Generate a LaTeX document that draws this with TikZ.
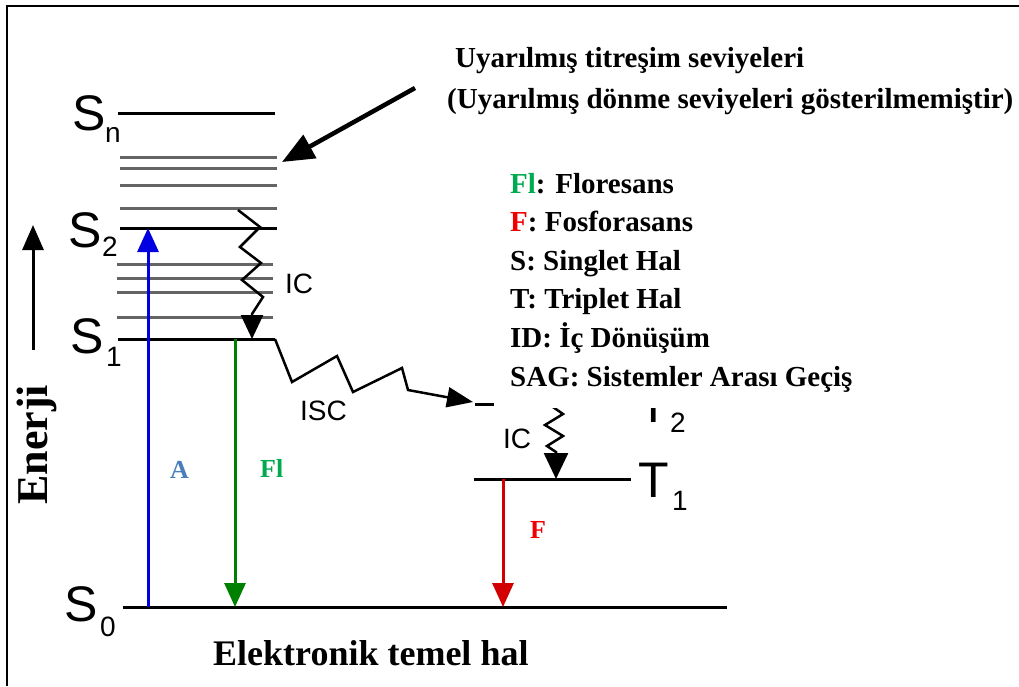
\documentclass[tikz,border=0pt]{standalone}
\usepackage{fontspec}
\setmainfont{Liberation Serif}
\newfontfamily\arialf{Liberation Sans}
\usetikzlibrary{arrows.meta}
\definecolor{lvgrey}{RGB}{100,100,100}
\definecolor{flgreen}{RGB}{0,128,0}
\definecolor{flgreentxt}{RGB}{0,170,80}
\definecolor{fred}{RGB}{210,0,0}
\definecolor{fredtxt}{RGB}{240,0,0}
\definecolor{ablue}{RGB}{0,0,225}
\definecolor{atxt}{RGB}{74,126,187}
\begin{document}
\begin{tikzpicture}[x=1pt,y=-1pt,
  level/.style={line width=3pt,black},
  vib/.style={line width=3pt,lvgrey},
  tipS/.style={-{Triangle[length=24pt,width=21pt]}},
  zig/.style={line width=2.5pt,black,line join=miter},
  lbl/.style={inner sep=0pt,font=\arialf\fontsize{50}{50}\selectfont,anchor=base west},
  sublbl/.style={inner sep=0pt,font=\arialf\fontsize{28}{28}\selectfont,anchor=base west},
  proc/.style={inner sep=0pt,font=\arialf\fontsize{28}{28}\selectfont,anchor=base west},
  txt/.style={inner sep=0pt,anchor=base west,font=\bfseries\fontsize{29}{29}\selectfont},
  trans/.style={inner sep=0pt,anchor=base west,font=\bfseries\fontsize{26}{26}\selectfont}]
\useasboundingbox (0,0) rectangle (1019,686);
\fill[white] (0,0) rectangle (1019,686);
\draw[line width=1.5pt] (7,686) -- (7,6) -- (1019,6);

% levels
\draw[level] (118,113) -- (275,113);
\foreach \yy in {157,168,185,208} \draw[vib] (120,\yy) -- (277,\yy);
\draw[level] (120,228) -- (277,228);
\foreach \yy in {264,278,292,317} \draw[vib] (117,\yy) -- (273,\yy);
\draw[level] (118,339) -- (275,339);
\draw[level] (123,607) -- (727,607);
\draw[level] (474,479) -- (631,479);
\draw[level] (475,404) -- (631,404);

% coordinates
\coordinate (s0a) at (148,607);
\coordinate (s2a) at (148,228);
\coordinate (s1f) at (235,339);
\coordinate (s0f) at (235,607);
\coordinate (t1f) at (503,479);
\coordinate (s0p) at (503,607);
\coordinate (s1end) at (275,339);
\coordinate (t2isc) at (473,402);
\coordinate (icA) at (238,210);
\coordinate (icAend) at (252,339);
\coordinate (icB) at (543,400);
\coordinate (icBend) at (556,479);
\coordinate (ebot) at (33,350);
\coordinate (etop) at (33,225);
\coordinate (ptail) at (415,88);
\coordinate (phead) at (282,162);

% transitions
\draw[ablue,line width=3pt,tipS] (s0a) -- (s2a);
\draw[flgreen,line width=3pt,tipS] (s1f) -- (s0f);
\draw[fred,line width=3pt,tipS] (t1f) -- (s0p);

% IC between S2 and S1
\draw[zig,-{Triangle[length=24pt,width=22pt]}] (icA) -- (260,227) -- (240,247) -- (261,263) -- (242,280) -- (263,297) -- (252,314) -- (icAend);
% ISC
\draw[zig,-{Triangle[length=26pt,width=20pt]}] (s1end) -- (292,382) -- (337,356) -- (353,392) -- (402,368) -- (408,390) -- (t2isc);
% IC between T2 and T1
\draw[zig,-{Triangle[length=26pt,width=24pt]}] (icB) -- (563,414) -- (545,425) -- (563,436) -- (547,446) -- (556,452) -- (icBend);

% energy arrow
\draw[line width=3pt,-{Triangle[length=25pt,width=21pt]}] (ebot) -- (etop);
% pointer arrow
\draw[line width=4.5pt,-{Triangle[length=32pt,width=26pt]}] (ptail) -- (phead);

% state labels
\node[lbl] (Sn) at (72,130) {S};
\node[sublbl] (Snsub) at (105,142) {n};
\node[lbl] (S2) at (68,247) {S};
\node[sublbl] (S2sub) at (102,256) {2};
\node[lbl] (S1) at (70,353) {S};
\node[sublbl] (S1sub) at (106,366) {1};
\node[lbl] (S0) at (64,621) {S};
\node[sublbl] (S0sub) at (100,636) {0};
\begin{scope}
\clip (600,408) rectangle (720,440);
\node[lbl] (T2) at (638,422) {T};
\end{scope}
\node[sublbl] (T2sub) at (670,432) {2};
\node[lbl] (T1) at (638,497) {T};
\node[sublbl] (T1sub) at (672,510) {1};

\node[proc] (ic1) at (285,293) {IC};
\node[proc] (isc) at (300,420) {ISC};
\node[proc] (ic2) at (503,448) {IC};

% legend (covers upper part of T2)
\fill[white] (494,160) rectangle (880,408);
\node[txt] (l1) at (510,193) {\textcolor{flgreentxt}{Fl}: Floresans};
\node[txt] (l2) at (510,231) {\textcolor{fredtxt}{F}: Fosforasans};
\node[txt] (l3) at (510,270) {S: Singlet Hal};
\node[txt] (l4) at (510,308) {T: Triplet Hal};
\node[txt] (l5) at (510,347) {ID: İç Dönüşüm};
\node[txt] (l6) at (510,386) {SAG: Sistemler Arası Geçiş};

% titles
\node[txt] (t1) at (455,67) {Uyarılmış titreşim seviyeleri};
\node[txt] (t2) at (447,108) {(Uyarılmış dönme seviyeleri gösterilmemiştir)};

% transition labels
\node[trans,text=atxt] (la) at (170,478) {A};
\node[trans,text=flgreentxt] (lfl) at (260,477) {Fl};
\node[trans,text=fredtxt] (lf) at (530,538) {F};

\node[inner sep=0pt,anchor=base west,rotate=90,font=\bfseries\fontsize{44}{44}\selectfont] (en) at (47,505) {Enerji};
\node[inner sep=0pt,anchor=base west,font=\bfseries\fontsize{36}{36}\selectfont] (eth) at (213,665) {Elektronik temel hal};
\end{tikzpicture}
\end{document}
